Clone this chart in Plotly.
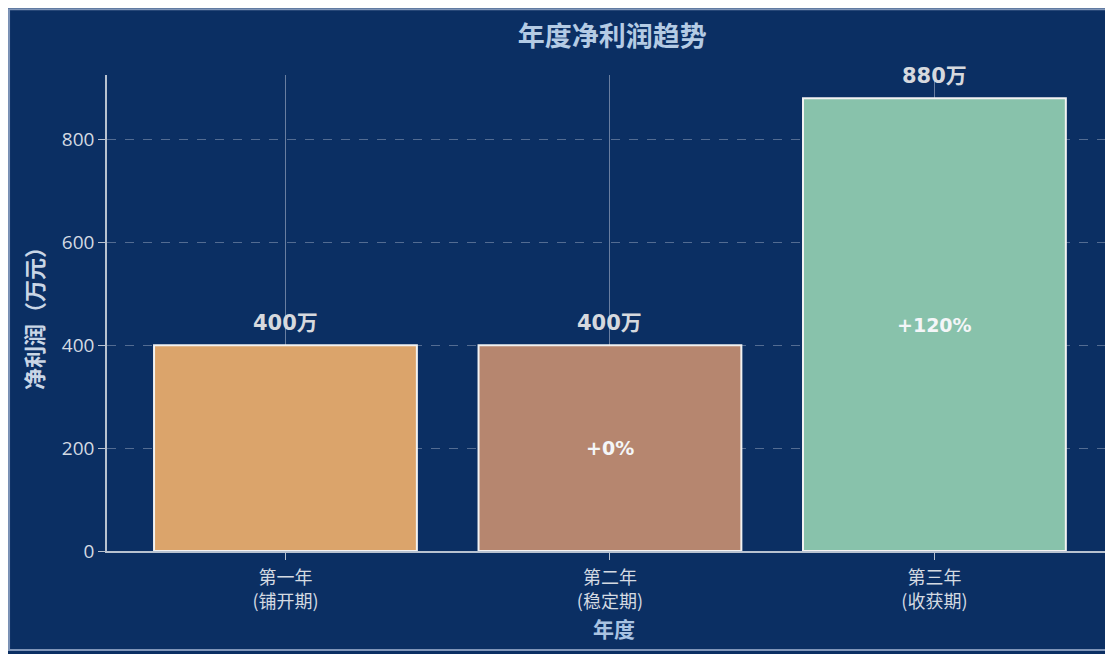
import plotly.graph_objects as go

categories = ['第一年<br>(铺开期)', '第二年<br>(稳定期)', '第三年<br>(收获期)']
profits = [400, 400, 880]
value_labels = ['400万', '400万', '880万']
growth_labels = ['', '+0%', '+120%']
bar_colors = ['#dba46b', '#b6866f', '#88c2ab']

title_font = 'Noto Sans CJK SC, DejaVu Sans, sans-serif'
num_font = 'DejaVu Sans, Noto Sans CJK SC, sans-serif'

fig = go.Figure()
fig.add_trace(go.Bar(
    x=categories,
    y=profits,
    width=0.81,
    marker=dict(color=bar_colors, line=dict(color='#f2f2f2', width=2)),
    hoverinfo='skip',
))

# value labels above bars, growth labels in the middle
for cat, val, lab, grow in zip(categories, profits, value_labels, growth_labels):
    fig.add_annotation(x=cat, y=val, text=f'<b>{lab}</b>', showarrow=False,
                       yanchor='bottom', yshift=8,
                       font=dict(family=num_font, size=21, color='#d6d9de'))
    if grow:
        fig.add_annotation(x=cat, y=val / 2, text=f'<b>{grow}</b>',
                           showarrow=False,
                           font=dict(family=num_font, size=19, color='#f4f6f8'))

# outer frame
fig.add_shape(type='rect', xref='paper', yref='paper',
              x0=-0.0966, x1=1.06, y0=-0.208, y1=1.138,
              line=dict(color='#7f95b8', width=2), layer='below')

fig.update_layout(
    width=1113, height=654,
    paper_bgcolor='#0b2f63',
    plot_bgcolor='rgba(0,0,0,0)',
    margin=dict(l=99, r=0, t=67, b=111),
    showlegend=False,
    title=dict(text='<b>年度净利润趋势</b>', x=0.543, xanchor='center',
               y=0.956, yanchor='middle', yref='container',
               font=dict(family=title_font, size=27, color='#b4cbe4')),
    font=dict(family=title_font, color='#d4dae2'),
)
fig.update_xaxes(
    range=[-0.55, 2.575],
    showgrid=True, gridcolor='rgba(220,225,235,0.45)', gridwidth=1,
    showline=True, linecolor='#b8c2d0', linewidth=1.5,
    ticks='outside', ticklen=7, tickcolor='#b8c2d0',
    ticklabelstandoff=3,
    tickfont=dict(size=18, color='#d4dae2'),
    title=dict(text='<b>年度</b>', standoff=2,
               font=dict(size=21, color='#a9c3e2')),
)
fig.update_yaxes(
    range=[0, 925],
    tickvals=[0, 200, 400, 600, 800],
    showgrid=True, gridcolor='rgba(170,185,205,0.45)', gridwidth=1,
    griddash='dash', zeroline=False,
    showline=True, linecolor='#b8c2d0', linewidth=1.5,
    ticks='outside', ticklen=7, tickcolor='#b8c2d0',
    tickfont=dict(family='Open Sans, sans-serif', size=19, color='#d4dae2'),
    title=dict(text='<b>净利润（万元）</b>', standoff=12,
               font=dict(size=22, color='#c9d6e6')),
)

fig.write_html('out.html')
